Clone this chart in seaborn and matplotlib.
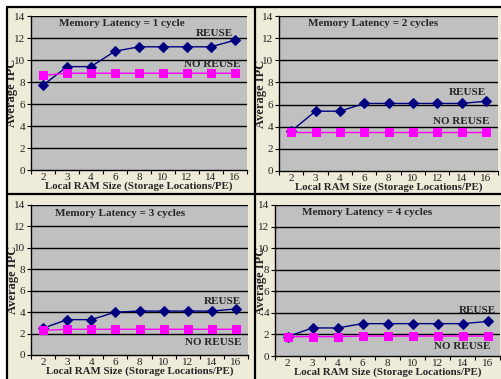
import matplotlib
matplotlib.use("Agg")
import matplotlib.pyplot as plt
import pandas as pd
import seaborn as sns
from matplotlib.patches import Rectangle
from matplotlib.lines import Line2D

# %% data
ram_sizes = ["2", "3", "4", "6", "8", "10", "12", "14", "16"]
latencies = [1, 2, 3, 4]

reuse_1 = [7.7, 9.4, 9.4, 10.8, 11.2, 11.2, 11.2, 11.2, 11.8]
noreuse_1 = [8.6, 8.8, 8.8, 8.8, 8.8, 8.8, 8.8, 8.8, 8.8]
reuse_2 = [3.6, 5.4, 5.4, 6.1, 6.1, 6.1, 6.1, 6.1, 6.3]
noreuse_2 = [3.5, 3.5, 3.5, 3.5, 3.5, 3.5, 3.5, 3.5, 3.5]
reuse_3 = [2.5, 3.3, 3.3, 4.0, 4.1, 4.1, 4.1, 4.1, 4.3]
noreuse_3 = [2.3, 2.4, 2.4, 2.4, 2.4, 2.4, 2.4, 2.4, 2.4]
reuse_4 = [1.8, 2.6, 2.6, 3.0, 3.0, 3.0, 3.0, 3.0, 3.2]
noreuse_4 = [1.8, 1.8, 1.8, 1.85, 1.85, 1.85, 1.85, 1.85, 1.85]

reuse = [reuse_1, reuse_2, reuse_3, reuse_4]
noreuse = [noreuse_1, noreuse_2, noreuse_3, noreuse_4]

# %% layout (pixels in a 501x379 figure)
W, H = 501, 379
# left, right, top, bottom of each plot area
boxes = [(31, 247, 16, 170), (279, 498, 16, 171),
         (31, 248, 205, 355), (275, 500, 205, 356)]
# (title x, title y, reuse x, reuse y, noreuse x, noreuse y) x in axes frac, y in data
labels_pos = [(0.42, 13.3, 0.85, 12.45, 0.84, 9.6),
              (0.43, 13.3, 0.86, 7.1, 0.83, 4.5),
              (0.41, 13.2, 0.88, 5.0, 0.84, 1.2),
              (0.41, 13.3, 0.90, 4.2, 0.83, 0.9)]
ylabel_x = [-0.06, -0.055, -0.055, -0.036]

bg = "#eeebd9"
sns.set_theme(style="white")
plt.rcParams["font.family"] = ["Liberation Serif", "DejaVu Serif"]

fig = plt.figure(figsize=(W / 100, H / 100), dpi=100, facecolor="white")

# page panel with black frame and dividers
fig.patches.append(Rectangle((7 / W, 0), 1, 1 - 7 / H, transform=fig.transFigure,
                             facecolor=bg, edgecolor="none", zorder=-10))
for xs, ys in [([7, 7], [7, H]), ([7, W], [7, 7]), ([255, 255], [7, H]),
               ([7, W], [194, 194])]:
    fig.lines.append(Line2D([x / W for x in xs], [1 - y / H for y in ys],
                            transform=fig.transFigure, color="black", lw=1.6,
                            zorder=5))

for i, lat in enumerate(latencies):
    l, r, t, b = boxes[i]
    ax = fig.add_axes([l / W, 1 - b / H, (r - l) / W, (b - t) / H])
    ax.set_facecolor("#c0c0c0")

    df = pd.DataFrame({
        "size": ram_sizes * 2,
        "ipc": reuse[i] + noreuse[i],
        "series": ["REUSE"] * len(ram_sizes) + ["NO REUSE"] * len(ram_sizes),
    })
    sns.pointplot(data=df, x="size", y="ipc", hue="series",
                  palette={"REUSE": "#000080", "NO REUSE": "#ff00ff"},
                  markers=["D", "s"], markersize=5, linewidth=1.0,
                  legend=False, ax=ax, errorbar=None)
    for line in ax.lines:
        if line.get_marker() == "s":
            line.set_markersize(6)

    ax.set_xlim(-0.5, 8.5)
    ax.set_ylim(0, 14)
    ax.set_yticks(range(0, 15, 2))
    for yv in range(2, 15, 2):
        ax.axhline(yv, color="black", lw=1.0, zorder=0.5)
    ax.set_xticks(range(len(ram_sizes)))
    ax.set_xticklabels(ram_sizes)
    ax.set_xticks([k - 0.5 for k in range(len(ram_sizes) + 1)], minor=True)
    ax.tick_params(axis="x", which="major", length=0, labelsize=8, pad=2,
                   colors="#222222")
    ax.tick_params(axis="x", which="minor", length=3, width=0.8,
                   direction="out", color="black", bottom=True)
    ax.tick_params(axis="y", length=3, width=0.8, direction="out",
                   labelsize=8, pad=1, colors="#222222", left=True)
    ax.tick_params(axis="y", colors="black", labelcolor="#222222")
    for s in ["top", "right"]:
        ax.spines[s].set_visible(False)
    for s in ["left", "bottom"]:
        ax.spines[s].set_color("black")
        ax.spines[s].set_linewidth(1.0)

    ax.set_xlabel("Local RAM Size (Storage Locations/PE)", fontsize=7.8,
                  fontweight="bold", labelpad=0)
    ax.set_ylabel("Average IPC", fontsize=9, fontweight="bold")
    ax.yaxis.set_label_coords(ylabel_x[i], 0.5)

    tx, ty, rx, ry, nx, ny = labels_pos[i]
    tr = ax.get_yaxis_transform()
    ax.text(tx, ty, f"Memory Latency = {lat} cycle" + ("s" if lat > 1 else ""),
            transform=tr, ha="center", va="center", fontsize=8,
            fontweight="bold")
    ax.text(rx, ry, "REUSE", transform=tr, ha="center", va="center",
            fontsize=8, fontweight="bold")
    ax.text(nx, ny, "NO REUSE", transform=tr, ha="center", va="center",
            fontsize=8, fontweight="bold")

fig.savefig("out.png", dpi=100, facecolor=fig.get_facecolor())
